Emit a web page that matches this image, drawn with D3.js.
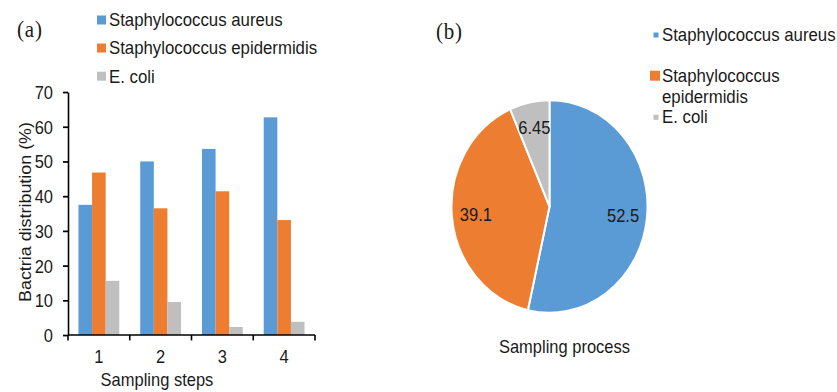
<!DOCTYPE html>
<html>
<head>
<meta charset="utf-8">
<script src="https://cdn.jsdelivr.net/npm/d3@7"></script>
<style>
  html, body { margin: 0; padding: 0; background: #fff; }
  svg { display: block; }
  text { font-family: "Liberation Sans", Arial, sans-serif; fill: #1a1a1a; }
  .panel { font-family: "Liberation Serif", "Times New Roman", serif; }
</style>
</head>
<body>
<svg id="chart" width="837" height="392"></svg>
<script>
// ---- data ----
const steps = ["1", "2", "3", "4"];
const seriesNames = ["Staphylococcus aureus", "Staphylococcus epidermidis", "E. coli"];
const aureusValues = [37.5, 50.0, 53.6, 62.7];
const epidermidisValues = [46.8, 36.5, 41.4, 33.1];
const ecoliValues = [15.6, 9.5, 2.3, 3.8];
const yTicks = [0, 10, 20, 30, 40, 50, 60, 70];

const pieNames = ["Staphylococcus aureus", "Staphylococcus epidermidis", "E. coli"];
const pieValues = [52.5, 39.1, 6.45];
const pieLegendLines = [["Staphylococcus aureus"], ["Staphylococcus", "epidermidis"], ["E. coli"]];

const colors = ["#5B9BD5", "#ED7D31", "#BFBFBF"];

// ---- layout ----
// whole figure is drawn slightly taller than wide (vertical stretch)
const K = 1.085;
const py = p => p / K;

const svg = d3.select("#chart");
const root = svg.append("g").attr("transform", `scale(1,${K})`);

// ================= (a) grouped bar chart =================
const plot = { left: 68, right: 315, top: py(92), bottom: py(335) };

const x0 = d3.scaleBand().domain(steps).range([plot.left, plot.right]).paddingInner(0).paddingOuter(0);
const x1 = d3.scaleBand().domain(seriesNames).range([0, x0.bandwidth()]).paddingInner(0).paddingOuter(0.77);
const y = d3.scaleLinear().domain([0, 70]).range([plot.bottom, plot.top]);

const seriesValues = [aureusValues, epidermidisValues, ecoliValues];
const rows = steps.map((s, i) => ({ step: s, vals: seriesNames.map((n, j) => ({ name: n, value: seriesValues[j][i], color: colors[j] })) }));

const bars = root.append("g");
bars.selectAll("g").data(rows).join("g")
  .attr("transform", d => `translate(${x0(d.step)},0)`)
  .selectAll("rect").data(d => d.vals).join("rect")
  .attr("x", d => x1(d.name))
  .attr("width", x1.bandwidth())
  .attr("y", d => y(d.value))
  .attr("height", d => y(0) - y(d.value))
  .attr("fill", d => d.color);

// y axis
const yAxis = root.append("g")
  .attr("transform", `translate(${plot.left},0)`)
  .call(d3.axisLeft(y).tickValues(yTicks).tickSize(5).tickPadding(10).tickSizeOuter(0));
yAxis.select(".domain").attr("stroke", "#000").attr("stroke-width", 1.6);
yAxis.selectAll(".tick line").attr("stroke", "#000").attr("stroke-width", 1.6);
yAxis.selectAll(".tick text").attr("font-size", 16.5).attr("font-family", "Liberation Sans, Arial, sans-serif")
  .attr("fill", "#1a1a1a").attr("dy", "0.36em");

// x axis: labels centred in bands, tick marks at band edges
const xAxis = root.append("g").attr("transform", `translate(0,${plot.bottom})`);
xAxis.append("line").attr("x1", plot.left).attr("x2", plot.right).attr("y1", 0).attr("y2", 0)
  .attr("stroke", "#000").attr("stroke-width", 1.6);
const edges = steps.map(s => x0(s)).concat([x0(steps[steps.length - 1]) + x0.bandwidth()]);
xAxis.selectAll("line.edge").data(edges).join("line").attr("class", "edge")
  .attr("x1", d => d).attr("x2", d => d).attr("y1", 0).attr("y2", 5)
  .attr("stroke", "#000").attr("stroke-width", 1.6);
xAxis.selectAll("text").data(steps).join("text")
  .attr("x", d => x0(d) + x0.bandwidth() / 2)
  .attr("y", py(363) - plot.bottom)
  .attr("text-anchor", "middle").attr("font-size", 16.5)
  .text(d => d);

root.append("text").attr("x", 157).attr("y", py(386))
  .attr("text-anchor", "middle").attr("font-size", 16.5).text("Sampling steps");

root.append("text")
  .attr("transform", `translate(31,${py(212)}) rotate(-90)`)
  .attr("text-anchor", "middle").attr("font-size", 16.5)
  .text("Bactria distribution (%)");

root.append("text").attr("class", "panel").attr("x", 17).attr("y", py(37.5))
  .attr("font-size", 21).attr("letter-spacing", 0.8).text("(a)");

// legend (a)
const legA = root.append("g");
const legARows = [26.5, 54.5, 82.7];
seriesNames.forEach((n, i) => {
  legA.append("rect").attr("x", 97).attr("y", py(legARows[i] - 11)).attr("width", 9).attr("height", py(9))
    .attr("fill", colors[i]);
  legA.append("text").attr("x", 109).attr("y", py(legARows[i])).attr("font-size", 16.8).text(n);
});

// ================= (b) pie chart =================
const pieCx = 549.5, pieCy = py(206.5), pieR = 98;
const pie = d3.pie().sort(null).value(d => d)(pieValues);
const arc = d3.arc().innerRadius(0).outerRadius(pieR);
const labelArc = d3.arc().innerRadius(74).outerRadius(74);

const pieG = root.append("g").attr("transform", `translate(${pieCx},${pieCy})`);
pieG.selectAll("path").data(pie).join("path")
  .attr("d", arc).attr("fill", (d, i) => colors[i])
  .attr("stroke", "#fff").attr("stroke-width", 2).attr("stroke-linejoin", "round");
pieG.selectAll("text").data(pie).join("text")
  .attr("transform", d => `translate(${labelArc.centroid(d)})`)
  .attr("text-anchor", "middle").attr("dy", "0.36em").attr("font-size", 16.5)
  .text(d => d.data);

root.append("text").attr("x", 564.5).attr("y", py(353))
  .attr("text-anchor", "middle").attr("font-size", 16.5).text("Sampling process");

root.append("text").attr("class", "panel").attr("x", 436).attr("y", py(39.5))
  .attr("font-size", 21).attr("letter-spacing", 0.8).text("(b)");

// legend (b)
const legB = root.append("g");
const legBRows = [41, 81.7, 123.3];
const legBSquare = [5, 10, 5];
pieNames.forEach((n, i) => {
  const s = legBSquare[i];
  legB.append("rect").attr("x", 656 - s / 2 - (s > 6 ? 1 : 0)).attr("y", py(legBRows[i] - 6 - s / 2))
    .attr("width", s).attr("height", py(s)).attr("fill", colors[i]);
  pieLegendLines[i].forEach((line, k) => {
    legB.append("text").attr("x", 662).attr("y", py(legBRows[i] + k * 21))
      .attr("font-size", 16.8).text(line);
  });
});
</script>
</body>
</html>
